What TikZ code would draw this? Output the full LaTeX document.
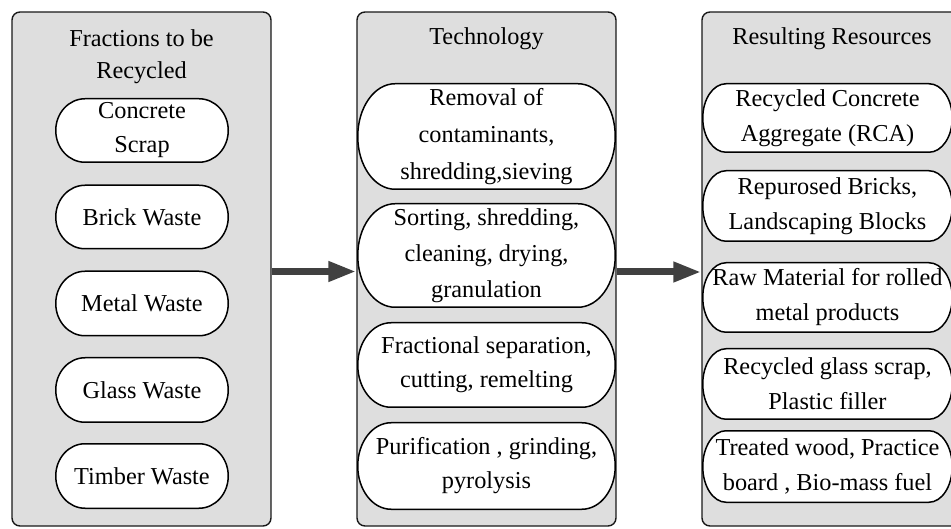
\documentclass[tikz,border=0pt]{standalone}
\usepackage{fontspec}
\setmainfont{Liberation Serif}
\usetikzlibrary{arrows.meta}
\definecolor{panelgray}{RGB}{222,222,222}
\definecolor{arrowgray}{RGB}{64,64,64}
\newcommand\pillpath[3]{%
  \path[fill=white,draw=black,line width=1.5pt]
    ([shift={(-#1/2+#3,-#2/2+0.75)}]path picture bounding box.center)
    -- ++(#1-2*#3,0)
    arc[start angle=-90,end angle=90,x radius={(#3-0.75)*1pt},y radius={(#2/2-0.75)*1pt}]
    -- ++(-#1+2*#3,0)
    arc[start angle=90,end angle=270,x radius={(#3-0.75)*1pt},y radius={(#2/2-0.75)*1pt}]
    -- cycle;}
\tikzset{
  panel/.style={draw=black!90,fill=panelgray,line width=1.4pt,rounded corners=8pt,
    minimum width=259pt,minimum height=514pt,inner sep=0pt},
  title/.style={font=\fontsize{24.3}{32}\selectfont,align=center,inner sep=0pt},
  pill/.style n args={4}{minimum width=#1pt,minimum height=#2pt,inner sep=0pt,
    align=center,font=\fontsize{24.3}{#4}\selectfont,
    path picture={\pillpath{#1}{#2}{#3}}},
  bigarrow/.style={draw=arrowgray,line width=7pt,
    -{Triangle[length=28pt,width=19pt,fill=arrowgray]}},
}
\begin{document}
\begin{tikzpicture}[x=1pt,y=1pt]
\useasboundingbox (0,0) rectangle (951,528);
\clip (0,0) rectangle (951,528);
% panels
\node[panel] (L) at (141.5,259) {};
\node[panel] (M) at (486.5,259) {};
\node[panel] (R) at (831.5,259) {};
% titles
\node[title] (Lt) at (141.5,471) {Fractions to be\\Recycled};
\node[title] (Mt) at (486.5,489) {Technology};
\node[title] (Rt) at (832,489) {Resulting Resources};
% left pills
\node[pill={174}{65}{30}{34}] (l1) at (142,528-130.5) {Concrete\\Scrap};
\node[pill={174}{65}{30}{34}] (l2) at (142,528-217) {Brick Waste};
\node[pill={174}{66}{30}{34}] (l3) at (142,528-303.5) {Metal Waste};
\node[pill={174}{66}{30}{34}] (l4) at (142,528-390) {Glass Waste};
\node[pill={174}{66}{30}{34}] (l5) at (142,528-476) {Timber Waste};
% middle pills
\node[pill={259}{107}{38}{37}] (m1) at (486.5,528-136.5) {Removal of\\contaminants,\\shredding,sieving};
\node[pill={259}{105}{38}{36}] (m2) at (486.5,528-255.5) {Sorting, shredding,\\cleaning, drying,\\granulation};
\node[pill={259}{86}{34}{34}] (m3) at (486.5,528-365) {Fractional separation,\\cutting, remelting};
\node[pill={259}{88}{34}{34}] (m4) at (486.5,528-466) {Purification , grinding,\\pyrolysis};
% right pills
\node[pill={251}{70}{24}{35}] (r1) at (827.5,528-118) {Recycled Concrete\\Aggregate (RCA)};
\node[pill={251}{72}{24}{35}] (r2) at (827.5,528-206) {Repurosed Bricks,\\Landscaping Blocks};
\node[pill={251}{71}{24}{35}] (r3) at (827.5,528-297.5) {Raw Material for rolled\\metal products};
\node[pill={251}{72}{24}{35}] (r4) at (827.5,528-384) {Recycled glass scrap,\\Plastic filler};
\node[pill={251}{73}{24}{35}] (r5) at (827.5,528-466.5) {Treated wood, Practice\\board , Bio-mass fuel};
% arrows
\draw[bigarrow] ([yshift=-2.5pt]L.east) -- ([yshift=-2.5pt]M.west);
\draw[bigarrow] ([yshift=-3pt]M.east) -- ([yshift=-3pt]R.west);
\end{tikzpicture}
\end{document}
